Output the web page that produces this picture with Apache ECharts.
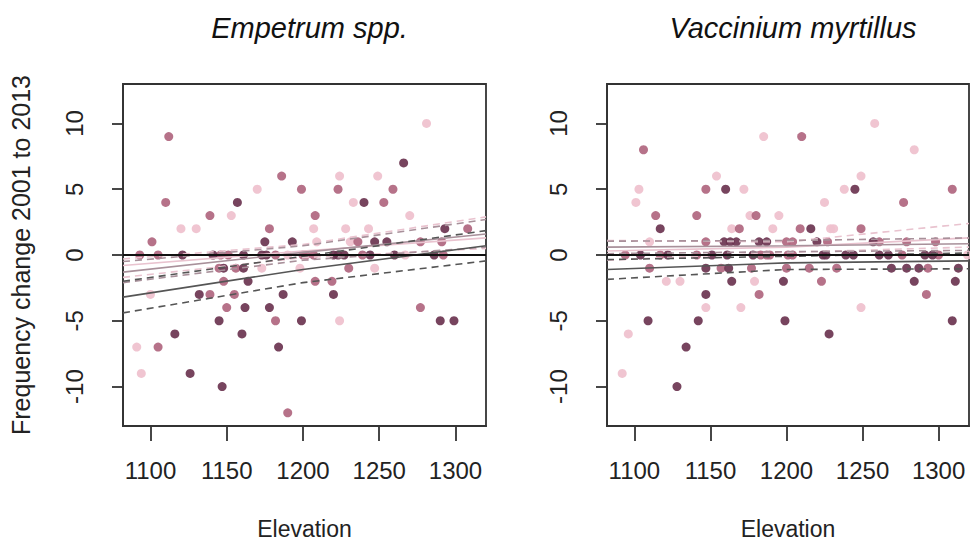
<!DOCTYPE html>
<html>
<head>
<meta charset="utf-8">
<script src="https://cdn.jsdelivr.net/npm/echarts@6/dist/echarts.min.js"></script>
<style>
html,body{margin:0;padding:0;background:#fff;}
#c{width:970px;height:547px;}
</style>
</head>
<body>
<div id="c"></div>
<script>
// ---------- data ----------
const panelTitles = ['Empetrum spp.', 'Vaccinium myrtillus'];
const xTicks = [1100, 1150, 1200, 1250, 1300];
const yTicks = [-10, -5, 0, 5, 10];
const xRange = [1082, 1320];
const yRange = [-13, 13];

// Empetrum points [elevation, change]
const empDark = [[1157,4],[1175,1],[1193,1],[1121,0],[1141,0],[1161,0],[1173,0],[1176,0],[1148,-1],[1161,-1],[1164,-2],[1132,-3],[1187,-3],[1162,-4],[1178,-4],[1145,-5],[1199,-5],[1116,-6],[1160,-6],[1184,-7],[1126,-9],[1147,-10],
  [1266,7],[1240,4],[1293,2],[1247,1],[1255,1],[1220,0],[1223,0],[1227,0],[1244,0],[1260,0],[1286,0],[1220,-3],[1290,-5],[1299,-5]];
const empMed = [[1112,9],[1110,4],[1101,1],[1139,3],[1186,6],[1199,5],[1178,2],[1093,0],[1105,0],[1146,0],[1151,0],[1182,0],[1200,0],[1145,-1],[1156,-1],[1148,-2],[1139,-3],[1155,-3],[1150,-4],[1182,-5],[1105,-7],[1190,-12],
  [1223,5],[1259,5],[1253,4],[1208,3],[1308,2],[1236,1],[1277,1],[1291,1],[1202,0],[1207,0],[1239,0],[1292,0],[1230,-1],[1208,-2],[1219,-2],[1277,-4]];
const empLight = [[1120,2],[1130,2],[1153,3],[1170,5],[1190,0],[1173,-1],[1198,-1],[1100,-3],[1091,-7],[1094,-9],
  [1281,10],[1224,6],[1249,6],[1233,4],[1270,3],[1207,2],[1228,2],[1243,2],[1209,1],[1231,1],[1267,0],[1247,-1],[1224,-5]];

// Vaccinium points
const vacDark = [[1160,5],[1117,2],[1159,1],[1163,1],[1167,1],[1182,1],[1187,1],[1104,0],[1122,0],[1151,0],[1161,0],[1178,0],[1147,-1],[1162,-1],[1164,-2],[1198,-2],[1147,-3],[1109,-5],[1142,-5],[1199,-5],[1134,-7],[1128,-10],
  [1245,5],[1216,2],[1220,1],[1257,1],[1224,0],[1226,0],[1239,0],[1244,0],[1261,0],[1267,0],[1291,0],[1296,0],[1269,-1],[1279,-1],[1287,-1],[1313,-1],[1284,-2],[1311,-2],[1309,-5],[1228,-6]];
const vacMed = [[1106,8],[1147,5],[1114,3],[1141,3],[1180,3],[1169,2],[1147,1],[1200,1],[1094,0],[1117,0],[1141,0],[1183,0],[1187,0],[1189,0],[1201,0],[1110,-1],[1157,-1],[1177,-1],[1200,-1],[1182,-3],
  [1210,9],[1309,5],[1277,4],[1209,2],[1249,2],[1204,1],[1227,1],[1261,1],[1279,1],[1298,1],[1204,0],[1276,0],[1300,0],[1215,-1],[1233,-1],[1293,-1],[1223,-2],[1292,-3]];
const vacLight = [[1185,9],[1103,5],[1101,4],[1154,6],[1172,5],[1176,3],[1195,3],[1164,2],[1191,2],[1110,1],[1121,-2],[1130,-2],[1179,-2],[1147,-4],[1170,-4],[1096,-6],[1092,-9],
  [1258,10],[1284,8],[1249,6],[1238,5],[1225,4],[1229,2],[1231,2],[1319,0],[1249,-4]];

// fitted lines, values at lineX
const lineX = [1082, 1200, 1320];
const empZero = [0, 0, 0];
const empFitDark = [-3.2, -1.1, 0.7];
const empLoDark = [-4.4, -2.1, -0.45];
const empHiDark = [-2.0, -0.1, 1.85];
const empFitMed = [-1.3, 0.2, 1.6];
const empLoMed = [-2.1, -0.4, 0.6];
const empHiMed = [-0.5, 0.7, 2.7];
const empFitLight = [-0.8, 0.3, 1.3];
const empLoLight = [-1.7, -0.2, 0.5];
const empHiLight = [-0.3, 0.8, 2.9];

const vacZero = [0, 0, 0];
const vacFitDark = [-1.1, -0.6, -0.45];
const vacLoDark = [-1.85, -1.1, -1.05];
const vacHiDark = [-0.35, -0.1, 0.15];
const vacFitMed = [0.6, 0.7, 0.85];
const vacLoMed = [0.1, 0.25, 0.35];
const vacHiMed = [1.05, 1.1, 1.3];
const vacFitLight = [0.3, 0.6, 1.3];
const vacLoLight = [-0.4, 0.2, 0.6];
const vacHiLight = [1.1, 1.0, 2.4];

// ---------- styling ----------
const FONT = '"Liberation Sans", Arial, sans-serif';
const C_DARK = '#6b3450', C_MED = '#b0667f', C_LIGHT = '#efc0cd';
const L_DARK = '#555555', L_MED = '#a8909a', L_LIGHT = '#e9c3cf';
const grids = [
  {left: 123, top: 84, width: 363, height: 342},
  {left: 607, top: 84, width: 362, height: 342}
];

function pts(arr){ return arr.map(p => [p[0], p[1]]); }
function ln(vals){ return lineX.map((x, i) => [x, vals[i]]); }
const plain = v => String(v);

const xAxes = [], yAxes = [], series = [];
grids.forEach((g, i) => {
  xAxes.push({
    type: 'value', gridIndex: i, min: xRange[0], max: xRange[1],
    name: 'Elevation', nameLocation: 'middle', nameGap: 91,
    nameTextStyle: {fontFamily: FONT, fontSize: 23, color: '#222'},
    axisLine: {show: true, onZero: false, lineStyle: {color: '#333', width: 1.8}},
    axisTick: {show: true, length: 15, customValues: xTicks, lineStyle: {color: '#333', width: 1.8}},
    axisLabel: {show: true, margin: 32, customValues: xTicks, formatter: plain, fontFamily: FONT, fontSize: 24, color: '#222'},
    splitLine: {show: false}
  });
  yAxes.push({
    type: 'value', gridIndex: i, min: yRange[0], max: yRange[1],
    name: i === 0 ? 'Frequency change 2001 to 2013' : '', nameLocation: 'middle', nameGap: 90,
    nameTextStyle: {fontFamily: FONT, fontSize: 25, color: '#222'},
    axisLine: {show: true, onZero: false, lineStyle: {color: '#333', width: 1.8}},
    axisTick: {show: true, length: 11, customValues: yTicks, lineStyle: {color: '#333', width: 1.8}},
    axisLabel: {show: true, rotate: 90, margin: 37, customValues: yTicks, formatter: plain, fontFamily: FONT, fontSize: 24, color: '#222'},
    splitLine: {show: false}
  });
});

function addLines(i, zero, fd, ld, hd, fm, lm, hm, fl, ll, hl){
  const mk = (vals, color, dashed, w) => ({
    type: 'line', xAxisIndex: i, yAxisIndex: i, data: ln(vals), symbol: 'none', silent: true,
    clip: false, z: 3, lineStyle: {color: color, width: w || 1.6, type: dashed ? [7, 5] : 'solid'}
  });
  series.push(mk(hl, L_LIGHT, true), mk(ll, L_LIGHT, true), mk(fl, L_LIGHT, false));
  series.push(mk(hm, L_MED, true), mk(lm, L_MED, true), mk(fm, L_MED, false));
  series.push(mk(hd, L_DARK, true), mk(ld, L_DARK, true), mk(fd, L_DARK, false));
  series.push(mk(zero, '#111', false, 1.8));
}
function addPts(i, d, m, l){
  const mk = (arr, color) => ({
    type: 'scatter', xAxisIndex: i, yAxisIndex: i, data: pts(arr), symbolSize: 9, z: 2,
    clip: false, itemStyle: {color: color, opacity: 0.92}
  });
  series.push(mk(l, C_LIGHT), mk(m, C_MED), mk(d, C_DARK));
}
addPts(0, empDark, empMed, empLight);
addLines(0, empZero, empFitDark, empLoDark, empHiDark, empFitMed, empLoMed, empHiMed, empFitLight, empLoLight, empHiLight);
addPts(1, vacDark, vacMed, vacLight);
addLines(1, vacZero, vacFitDark, vacLoDark, vacHiDark, vacFitMed, vacLoMed, vacHiMed, vacFitLight, vacLoLight, vacHiLight);

const chart = echarts.init(document.getElementById('c'), null, {renderer: 'svg'});
chart.setOption({
  animation: false,
  title: panelTitles.map((t, i) => ({
    text: t, left: grids[i].left + grids[i].width / 2, top: 8, textAlign: 'center',
    textStyle: {fontFamily: FONT, fontSize: 29, fontStyle: 'italic', fontWeight: 'normal', color: '#111'}
  })),
  grid: grids.map(g => Object.assign({show: true, borderColor: '#333', borderWidth: 1.8}, g)),
  xAxis: xAxes,
  yAxis: yAxes,
  series: series
});
</script>
</body>
</html>
